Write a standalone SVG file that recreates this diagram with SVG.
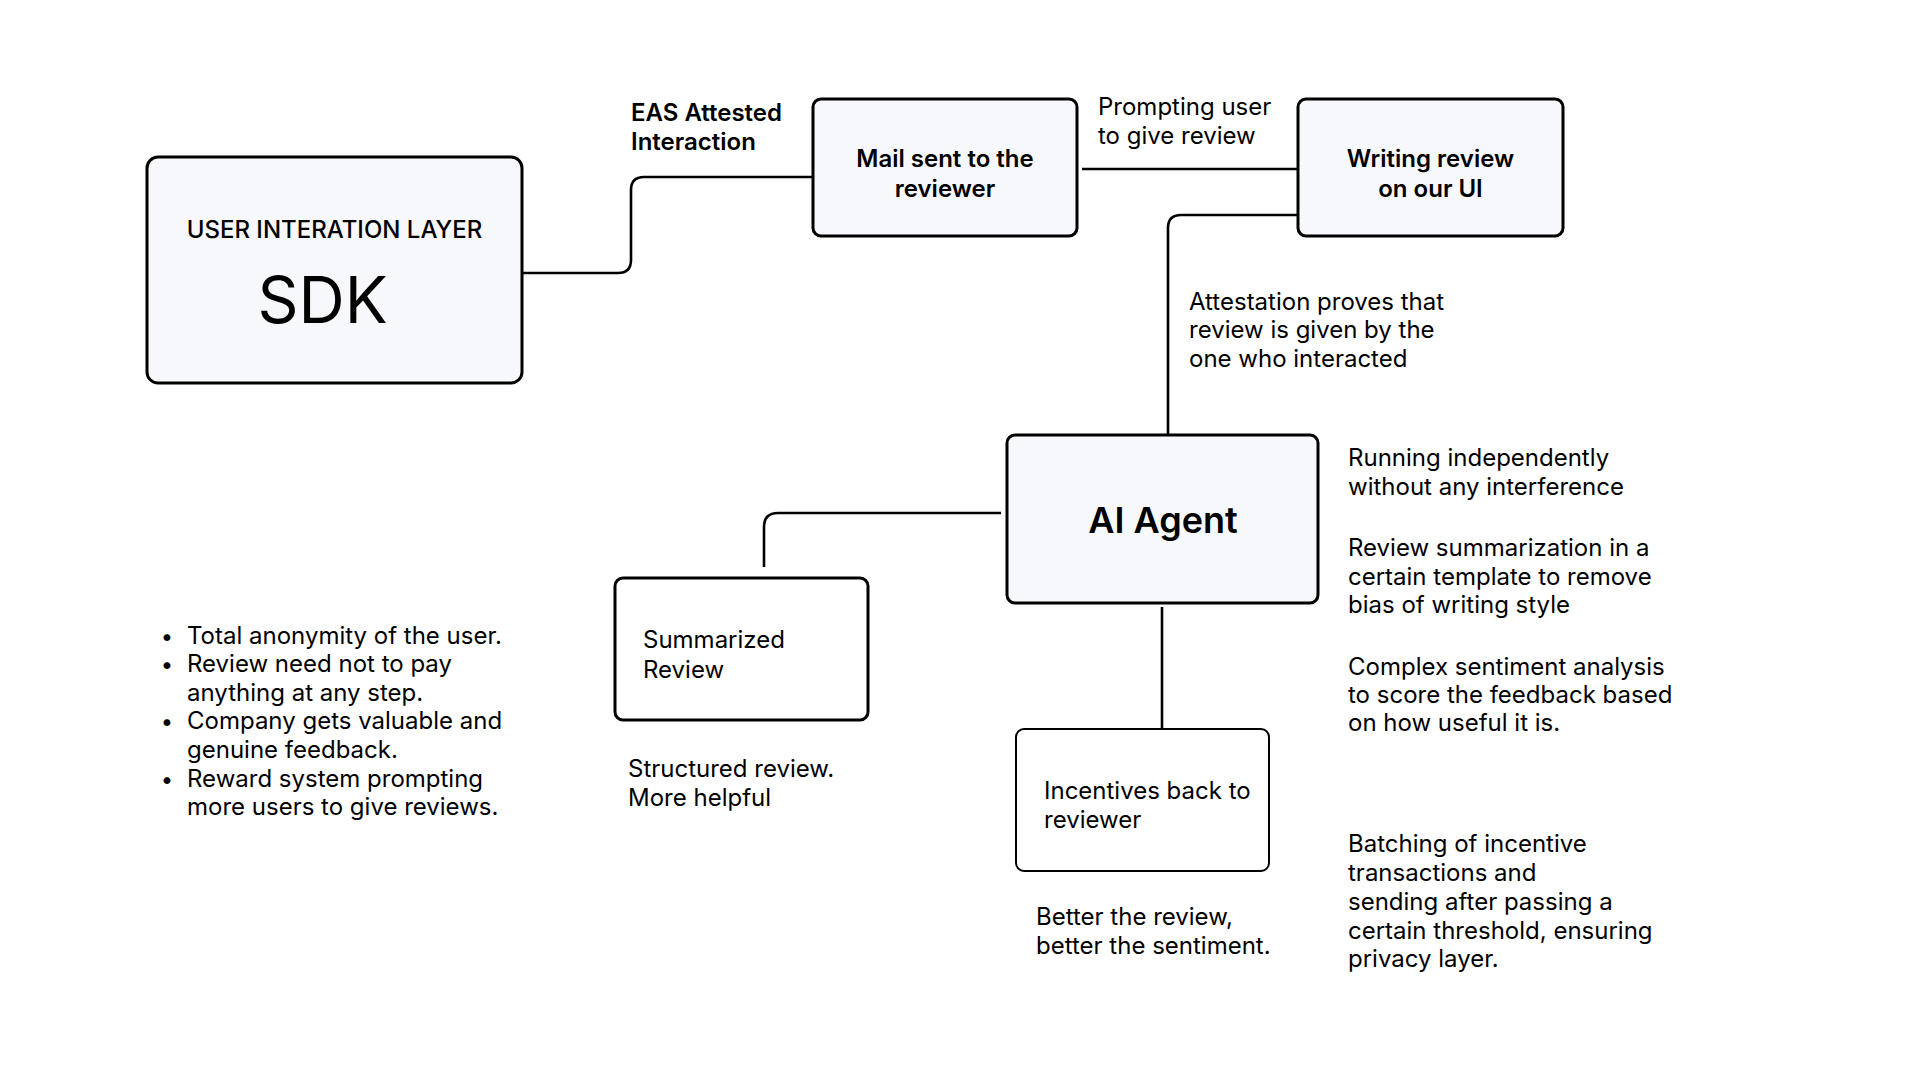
<svg xmlns="http://www.w3.org/2000/svg" width="1920" height="1080" viewBox="0 0 1920 1080">
<defs>
<style>
.box{fill:#F7F8FC;stroke:#000;stroke-width:3}
.wbox{fill:#FFFFFF;stroke:#000;stroke-width:3}
.thin{stroke-width:2}
.conn{fill:none;stroke:#000;stroke-width:2.6}
text{font-family:Inter,"Noto Sans","Liberation Sans",sans-serif;fill:#000}
.t{font-size:24px;font-weight:400}
.b{font-size:24px;font-weight:600}
.c{text-anchor:middle}
.dot{font-size:22px}
</style>
</defs>
<rect width="1920" height="1080" fill="#FFFFFF"/>
<g id="connectors">
<path class="conn" d="M522,273 H618 Q631,273 631,260 V190 Q631,177 644,177 H813"/>
<path class="conn" d="M1082,169 H1298"/>
<path class="conn" d="M1298,215 H1181 Q1168,215 1168,228 V435"/>
<path class="conn" d="M1001,513 H778 Q764,513 764,527 V567"/>
<path class="conn" d="M1162,607 V729"/>
</g>
<g id="node-sdk">
<rect class="box" x="147" y="157" width="375" height="226" rx="11"/>
<text x="334.5" y="238" class="c" style="font-size:24px;font-weight:500">USER INTERATION LAYER</text>
<text x="322.5" y="323" class="c" style="font-size:64px;font-weight:400">SDK</text>
</g>
<g id="label-eas">
<text class="b" x="631" y="121">EAS Attested</text>
<text class="b" x="631" y="149.5">Interaction</text>
</g>
<g id="node-mail">
<rect class="box" x="813" y="99" width="264" height="137" rx="8"/>
<text class="b c" x="945" y="167">Mail sent to the</text>
<text class="b c" x="945" y="196.5">reviewer</text>
</g>
<g id="label-prompting">
<text class="t" x="1098" y="115">Prompting user</text>
<text class="t" x="1098" y="143.5">to give review</text>
</g>
<g id="node-writing">
<rect class="box" x="1298" y="99" width="265" height="137" rx="8"/>
<text class="b c" x="1430.5" y="167">Writing review</text>
<text class="b c" x="1430.5" y="196.5">on our UI</text>
</g>
<g id="label-attestation">
<text class="t" x="1189" y="309.5">Attestation proves that</text>
<text class="t" x="1189" y="338">review is given by the</text>
<text class="t" x="1189" y="366.5">one who interacted</text>
</g>
<g id="node-ai">
<rect class="box" x="1007" y="435" width="311" height="168" rx="8"/>
<text class="c" x="1163" y="533" style="font-size:36px;font-weight:600">AI Agent</text>
</g>
<g id="notes-ai">
<text class="t" x="1348" y="466">Running independently</text>
<text class="t" x="1348" y="494.5">without any interference</text>
<text class="t" x="1348" y="556">Review summarization in a</text>
<text class="t" x="1348" y="584.5">certain template to remove</text>
<text class="t" x="1348" y="613">bias of writing style</text>
<text class="t" x="1348" y="674.5">Complex sentiment analysis</text>
<text class="t" x="1348" y="703">to score the feedback based</text>
<text class="t" x="1348" y="731">on how useful it is.</text>
</g>
<g id="node-summarized">
<rect class="wbox" x="615" y="578" width="253" height="142" rx="8"/>
<text class="t" x="643" y="648">Summarized</text>
<text class="t" x="643" y="677.5">Review</text>
</g>
<g id="label-structured">
<text class="t" x="628" y="777">Structured review.</text>
<text class="t" x="628" y="806">More helpful</text>
</g>
<g id="node-incentives">
<rect class="wbox thin" x="1016" y="729" width="253" height="142" rx="8"/>
<text class="t" x="1044" y="799">Incentives back to</text>
<text class="t" x="1044" y="828">reviewer</text>
</g>
<g id="label-better">
<text class="t" x="1036" y="925">Better the review,</text>
<text class="t" x="1036" y="954">better the sentiment.</text>
</g>
<g id="notes-batching">
<text class="t" x="1348" y="852">Batching of incentive</text>
<text class="t" x="1348" y="881">transactions and</text>
<text class="t" x="1348" y="910">sending after passing a</text>
<text class="t" x="1348" y="938.5">certain threshold, ensuring</text>
<text class="t" x="1348" y="967">privacy layer.</text>
</g>
<g id="notes-bullets">
<text class="t c dot" x="167" y="643.5">•</text>
<text class="t" x="187" y="643.5">Total anonymity of the user.</text>
<text class="t c dot" x="167" y="672">•</text>
<text class="t" x="187" y="672">Review need not to pay</text>
<text class="t" x="187" y="700.5">anything at any step.</text>
<text class="t c dot" x="167" y="729">•</text>
<text class="t" x="187" y="729">Company gets valuable and</text>
<text class="t" x="187" y="757.5">genuine feedback.</text>
<text class="t c dot" x="167" y="786.5">•</text>
<text class="t" x="187" y="786.5">Reward system prompting</text>
<text class="t" x="187" y="815">more users to give reviews.</text>
</g>
</svg>
